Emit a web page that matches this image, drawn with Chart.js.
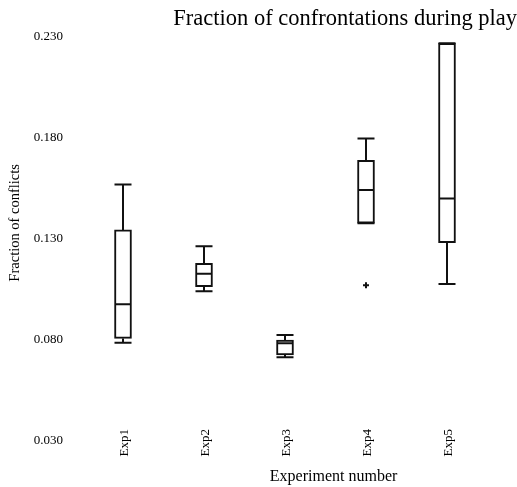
<!DOCTYPE html>
<html>
<head>
<meta charset="utf-8">
<script src="https://cdn.jsdelivr.net/npm/chart.js@4.4.1/dist/chart.umd.min.js"></script>
<style>
  body { margin: 0; background: #fff; }
  #wrap { width: 517px; height: 487px; position: relative; }
</style>
</head>
<body>
<div id="wrap"><canvas id="chart"></canvas></div>
<script>
const labels = ['Exp1', 'Exp2', 'Exp3', 'Exp4', 'Exp5'];
const minVals = [0.0787, 0.1041, 0.0714, 0.1378, 0.1077];
const q1Vals = [0.0808, 0.1064, 0.0726, 0.1378, 0.1282];
const medianVals = [0.0977, 0.1128, 0.0784, 0.1543, 0.1500];
const q3Vals = [0.1345, 0.1180, 0.0800, 0.1690, 0.2269];
const maxVals = [0.1570, 0.1264, 0.0825, 0.1797, 0.2269];
const outlierVals = [null, null, null, 0.1071, null];

Chart.defaults.font.family = 'Liberation Serif';
Chart.defaults.color = '#000';

// whiskers, caps and medians drawn on top of the floating bars
const whiskers = {
    id: 'whiskers',
    afterDatasetsDraw(chart) {
        const ctx = chart.ctx;
        const y = chart.scales.y;
        const meta = chart.getDatasetMeta(0);
        ctx.save();
        ctx.strokeStyle = '#111';
        ctx.lineWidth = 2;
        meta.data.forEach((bar, i) => {
            const half = bar.width / 2;
            const yMin = y.getPixelForValue(minVals[i]);
            const yQ1 = y.getPixelForValue(q1Vals[i]);
            const yMed = y.getPixelForValue(medianVals[i]);
            const yQ3 = y.getPixelForValue(q3Vals[i]);
            const yMax = y.getPixelForValue(maxVals[i]);
            ctx.beginPath();
            ctx.moveTo(bar.x, yQ3); ctx.lineTo(bar.x, yMax);
            ctx.moveTo(bar.x, yQ1); ctx.lineTo(bar.x, yMin);
            ctx.moveTo(bar.x - half, yMax); ctx.lineTo(bar.x + half, yMax);
            ctx.moveTo(bar.x - half, yMin); ctx.lineTo(bar.x + half, yMin);
            ctx.moveTo(bar.x - half + 1, yMed); ctx.lineTo(bar.x + half - 1, yMed);
            ctx.stroke();
        });
        ctx.restore();
    }
};

// axis titles, placed where the reference has them
const axisTitles = {
    id: 'axisTitles',
    afterDraw(chart) {
        const ctx = chart.ctx;
        const area = chart.chartArea;
        ctx.save();
        ctx.fillStyle = '#000';
        ctx.textAlign = 'center';
        ctx.textBaseline = 'middle';
        ctx.font = '16px "Liberation Serif"';
        ctx.fillText('Experiment number', area.left + area.width * 0.62, 477);
        ctx.font = '14.5px "Liberation Serif"';
        ctx.translate(15, area.top + area.height * 0.46);
        ctx.rotate(-Math.PI / 2);
        ctx.fillText('Fraction of conflicts', 0, 0);
        ctx.restore();
    }
};

const data = {
    labels: labels,
    datasets: [{
        type: 'bar',
        data: labels.map((_, i) => [q1Vals[i], q3Vals[i]]),
        backgroundColor: '#fff',
        borderColor: '#111',
        borderWidth: 2,
        borderSkipped: false,
        barThickness: 17
    }, {
        type: 'line',
        data: outlierVals,
        showLine: false,
        pointStyle: 'cross',
        pointRadius: 3,
        borderColor: '#111',
        borderWidth: 2
    }]
};

const config = {
    type: 'bar',
    data: data,
    options: {
        responsive: true,
        maintainAspectRatio: false,
        animation: false,
        layout: {
            padding: 0
        },
        plugins: {
            legend: { display: false },
            tooltip: { enabled: false },
            title: {
                display: true,
                text: 'Fraction of confrontations during play',
                align: 'end',
                color: '#000',
                font: { size: 22.5, weight: 'normal', family: 'Liberation Serif' },
                padding: { top: 6, bottom: 4 }
            }
        },
        scales: {
            x: {
                grid: { display: false, drawTicks: false },
                border: { display: false },
                ticks: {
                    minRotation: 90,
                    maxRotation: 90,
                    mirror: true,
                    padding: 12,
                    labelOffset: 17,
                    font: { size: 13 }
                },
                afterFit(scale) { scale.height = 46; }
            },
            y: {
                min: 0.03,
                max: 0.23,
                grid: { display: false, drawTicks: false },
                border: { display: false },
                ticks: {
                    stepSize: 0.05,
                    padding: 19.5,
                    font: { size: 13 },
                    callback: (v) => v.toFixed(3)
                },
                afterFit(scale) { scale.width = 82.5; }
            },
            // empty right-hand margin so the title can reach the canvas edge
            margin: {
                position: 'right',
                grid: { display: false, drawTicks: false },
                border: { display: false },
                ticks: { display: false },
                afterFit(scale) { scale.width = 29.5; }
            }
        }
    },
    plugins: [whiskers, axisTitles]
};

const myChart = new Chart(
    document.getElementById('chart'),
    config
);
</script>
</body>
</html>
